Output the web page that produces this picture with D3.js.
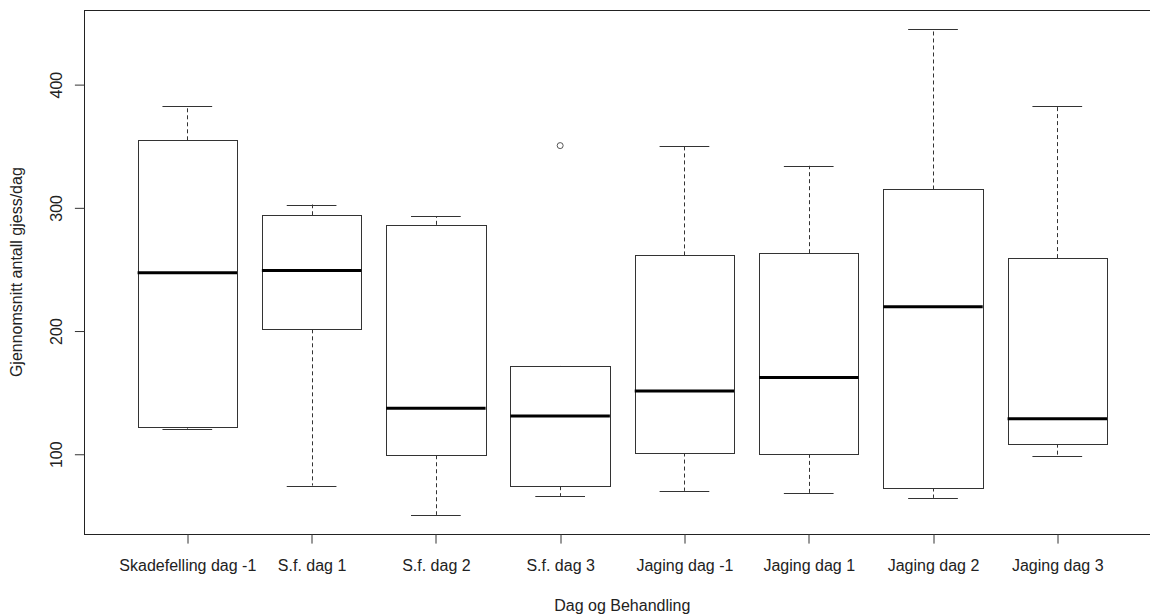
<!DOCTYPE html>
<html>
<head>
<meta charset="utf-8">
<script src="https://cdn.jsdelivr.net/npm/d3@7"></script>
<style>
  html, body { margin: 0; padding: 0; background: #fff; }
  svg { display: block; }
  text { font-family: "Liberation Sans", Arial, sans-serif; fill: #222; }
</style>
</head>
<body>
<svg id="chart" width="1150" height="615"></svg>
<script>
// ---- data ----
const categories = ["Skadefelling dag -1", "S.f. dag 1", "S.f. dag 2", "S.f. dag 3",
                    "Jaging dag -1", "Jaging dag 1", "Jaging dag 2", "Jaging dag 3"];
const lowerWhisker = [120.8, 74.6, 50.8, 66.2, 70.3, 68.4, 64.6, 98.4];
const q1Values     = [122.2, 201.4, 99.2, 74.1, 101.4, 100.3, 73.0, 108.6];
const medianValues = [247.3, 249.2, 137.3, 131.1, 151.4, 162.2, 219.8, 128.9];
const q3Values     = [354.8, 294.0, 286.2, 171.6, 261.4, 263.2, 314.9, 259.2];
const upperWhisker = [382.4, 302.7, 293.2, 171.6, 350.5, 334.1, 444.8, 382.4];
const outlierCategory = ["S.f. dag 3"];
const outlierValue    = [350.5];
const yTicks = [100, 200, 300, 400];
const xTitle = "Dag og Behandling";
const yTitle = "Gjennomsnitt antall gjess/dag";

// ---- layout ----
const svg = d3.select("#chart");
const plotLeft = 85.4, plotRight = 1159.2, plotTop = 10, plotBottom = 534.3;

const n = categories.length;
const xPad = 0.04 * n;
const x = d3.scaleLinear().domain([0.5 - xPad, n + 0.5 + xPad]).range([plotLeft, plotRight]);

const allVals = lowerWhisker.concat(upperWhisker, outlierValue);
const yMin = d3.min(allVals), yMax = d3.max(allVals);
const yPad = 0.04 * (yMax - yMin);
const y = d3.scaleLinear().domain([yMin - yPad, yMax + yPad]).range([plotBottom, plotTop]);

const snap = v => Math.round(v) + 0.5;
const lineCol = "#333";
const boxHalf = 0.4, stapleHalf = 0.2;

const data = categories.map((c, i) => ({
  cat: c, pos: i + 1,
  lw: lowerWhisker[i], q1: q1Values[i], med: medianValues[i], q3: q3Values[i], uw: upperWhisker[i]
}));

const g = svg.append("g");

// whiskers (dashed)
g.selectAll(".wu").data(data).join("line")
  .attr("x1", d => snap(x(d.pos))).attr("x2", d => snap(x(d.pos)))
  .attr("y1", d => y(d.q3)).attr("y2", d => y(d.uw))
  .attr("stroke", lineCol).attr("stroke-width", 1).attr("stroke-dasharray", "4,3");
g.selectAll(".wl").data(data).join("line")
  .attr("x1", d => snap(x(d.pos))).attr("x2", d => snap(x(d.pos)))
  .attr("y1", d => y(d.q1)).attr("y2", d => y(d.lw))
  .attr("stroke", lineCol).attr("stroke-width", 1).attr("stroke-dasharray", "4,3");

// staples
["uw", "lw"].forEach(k => {
  g.selectAll(".st-" + k).data(data).join("line")
    .attr("x1", d => x(d.pos - stapleHalf)).attr("x2", d => x(d.pos + stapleHalf))
    .attr("y1", d => snap(y(d[k]))).attr("y2", d => snap(y(d[k])))
    .attr("stroke", lineCol).attr("stroke-width", 1);
});

// boxes
g.selectAll(".box").data(data).join("rect")
  .attr("x", d => snap(x(d.pos - boxHalf)))
  .attr("width", d => Math.round(x(d.pos + boxHalf)) - Math.round(x(d.pos - boxHalf)))
  .attr("y", d => snap(y(d.q3)))
  .attr("height", d => Math.round(y(d.q1)) - Math.round(y(d.q3)))
  .attr("fill", "#fff").attr("stroke", lineCol).attr("stroke-width", 1);

// medians
g.selectAll(".med").data(data).join("line")
  .attr("x1", d => x(d.pos - boxHalf)).attr("x2", d => x(d.pos + boxHalf))
  .attr("y1", d => y(d.med)).attr("y2", d => y(d.med))
  .attr("stroke", "#000").attr("stroke-width", 3);

// outliers
g.selectAll(".out").data(outlierValue.map((v, i) => ({ pos: categories.indexOf(outlierCategory[i]) + 1, v })))
  .join("circle")
  .attr("cx", d => x(d.pos)).attr("cy", d => y(d.v)).attr("r", 3)
  .attr("fill", "none").attr("stroke", "#555").attr("stroke-width", 1);

// frame
svg.append("rect")
  .attr("x", snap(plotLeft) - 1).attr("y", snap(plotTop))
  .attr("width", Math.round(plotRight - plotLeft) + 2).attr("height", Math.round(plotBottom - plotTop))
  .attr("fill", "none").attr("stroke", "#222").attr("stroke-width", 1);

// x axis
const xAxis = svg.append("g")
  .attr("transform", `translate(0,${snap(plotBottom) - 0.5})`)
  .call(d3.axisBottom(x).tickValues(d3.range(1, n + 1)).tickFormat(i => categories[i - 1]).tickSize(9.6));
xAxis.select(".domain").remove();
xAxis.selectAll(".tick line").attr("stroke", lineCol)
  .attr("transform", function() { return `translate(${0.5 - (x(+d3.select(this.parentNode).datum()) % 1)},0)`; });
xAxis.selectAll(".tick text").attr("y", 37.4).attr("dy", 0)
  .style("font-size", "16px").style("font-family", '"Liberation Sans", Arial, sans-serif').attr("fill", "#222");

// y axis
const yAxis = svg.append("g")
  .attr("transform", `translate(${snap(plotLeft) - 1},0)`)
  .call(d3.axisLeft(y).tickValues(yTicks).tickFormat(d3.format("d")).tickSize(9.6));
yAxis.select(".domain").remove();
yAxis.selectAll(".tick line").attr("stroke", lineCol);
yAxis.selectAll(".tick text")
  .attr("transform", "rotate(-90)").attr("x", 0).attr("y", -23).attr("dy", 0)
  .attr("text-anchor", "middle")
  .style("font-size", "16px").style("font-family", '"Liberation Sans", Arial, sans-serif').attr("fill", "#222");

// titles
svg.append("text")
  .attr("x", (plotLeft + plotRight) / 2).attr("y", 611)
  .attr("text-anchor", "middle").style("font-size", "16px")
  .text(xTitle);
svg.append("text")
  .attr("transform", `translate(22,${(plotTop + plotBottom) / 2}) rotate(-90)`)
  .attr("text-anchor", "middle").style("font-size", "16px")
  .text(yTitle);
</script>
</body>
</html>
